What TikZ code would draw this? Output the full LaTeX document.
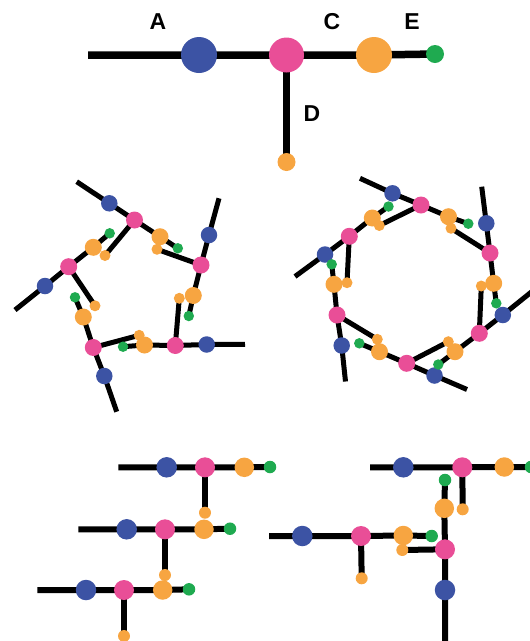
\documentclass[tikz,border=0pt]{standalone}
\usepackage{fontspec}
\setmainfont{Liberation Sans}
\usetikzlibrary{backgrounds}
\definecolor{cblue}{RGB}{60,83,164}
\definecolor{cpink}{RGB}{233,78,151}
\definecolor{corange}{RGB}{247,165,65}
\definecolor{cgreen}{RGB}{31,170,80}
\tikzset{
  cb/.style={circle,inner sep=0pt,minimum size=#1,fill=cblue},
  cp/.style={circle,inner sep=0pt,minimum size=#1,fill=cpink},
  co/.style={circle,inner sep=0pt,minimum size=#1,fill=corange},
  cg/.style={circle,inner sep=0pt,minimum size=#1,fill=cgreen},
  lnT/.style={line width=7.5pt,black},
  lnR/.style={line width=5pt,black},
  lnB/.style={line width=6pt,black},
  lbl/.style={font=\fontsize{23}{23}\selectfont\bfseries,inner sep=0pt}
}
\begin{document}
\begin{tikzpicture}[x=1pt,y=1pt]
\useasboundingbox (0,0) rectangle (530,-641);
\clip (0,0) rectangle (530,-641);
% ---------- top molecule ----------
\coordinate (tL) at (88,-55);
\node[cb=36] (tA) at (199,-55) {};
\node[cp=35] (tB) at (286.5,-55) {};
\node[co=36] (tC) at (374,-55) {};
\node[cg=18] (tE) at (435,-54) {};
\node[co=18] (tD) at (286.5,-162) {};
\node[lbl] (lA) at (158,-22) {A};
\node[lbl] (lC) at (332,-22) {C};
\node[lbl] (lE) at (412,-22) {E};
\node[lbl] (lD) at (312,-114) {D};
% ---------- pentagon ----------
\coordinate (p1x) at (76.7,-181.7);
\coordinate (p2x) at (219,-198.3);
\coordinate (p3x) at (245,-344.3);
\coordinate (p4x) at (116.7,-411.7);
\coordinate (p5x) at (15,-310);
\node[cb=16.5] (p1a) at (109.3,-203.3) {};
\node[cb=16.5] (p2a) at (209,-235) {};
\node[cb=16.5] (p3a) at (206.7,-344.5) {};
\node[cb=16.5] (p4a) at (104.3,-376) {};
\node[cb=16.5] (p5a) at (45,-286) {};
\node[cg=10.5] (p1e) at (177.8,-248.3) {};
\node[cg=10.5] (p2e) at (188.8,-316) {};
\node[cg=10.5] (p3e) at (123,-346.7) {};
\node[cg=10.5] (p4e) at (75,-297.3) {};
\node[cg=10.5] (p5e) at (109.7,-233.3) {};
\node[co=11] (p1d) at (105,-255.5) {};
\node[co=11] (p2d) at (157,-249.3) {};
\node[co=11] (p3d) at (179.3,-298.3) {};
\node[co=11] (p4d) at (139.2,-335.3) {};
\node[co=11] (p5d) at (95,-305.8) {};
\node[co=17] (p1c) at (160,-236.7) {};
\node[co=17] (p2c) at (193.3,-295.5) {};
\node[co=17] (p3c) at (144.5,-345) {};
\node[co=17] (p4c) at (83.3,-317) {};
\node[co=17] (p5c) at (93.3,-247.3) {};
\node[cp=17] (p1) at (134.5,-220) {};
\node[cp=17] (p2) at (201,-265) {};
\node[cp=17] (p3) at (175.3,-345.5) {};
\node[cp=17] (p4) at (93.3,-347.5) {};
\node[cp=17] (p5) at (68.7,-266.7) {};
% ---------- hexagon ----------
\coordinate (h1x) at (360,-178.3);
\coordinate (h2x) at (481.7,-186.7);
\coordinate (h3x) at (545,-281);
\coordinate (h4x) at (467,-389.5);
\coordinate (h5x) at (345.5,-381.5);
\coordinate (h6x) at (295,-276.5);
\node[cb=16.5] (h1a) at (392.5,-193.3) {};
\node[cb=16.5] (h2a) at (486.3,-223.3) {};
\node[cb=16.5] (h3a) at (502.8,-315) {};
\node[cb=16.5] (h4a) at (434.5,-375.5) {};
\node[cb=16.5] (h5a) at (341.7,-345.5) {};
\node[cb=16.5] (h6a) at (325,-254.5) {};
\node[cg=10.5] (h1e) at (468.3,-223.7) {};
\node[cg=10.5] (h2e) at (496.3,-303.3) {};
\node[cg=10.5] (h3e) at (438.3,-364.5) {};
\node[cg=10.5] (h4e) at (359.3,-343.3) {};
\node[cg=10.5] (h5e) at (331.7,-264.3) {};
\node[cg=10.5] (h6e) at (388.5,-206.5) {};
\node[co=11] (h1d) at (379.3,-225.5) {};
\node[co=11] (h2d) at (451,-228.3) {};
\node[co=11] (h3d) at (481.3,-286) {};
\node[co=11] (h4d) at (448.3,-341.7) {};
\node[co=11] (h5d) at (377.3,-339.3) {};
\node[co=11] (h6d) at (347,-282.7) {};
\node[co=17] (h1c) at (448.5,-216.7) {};
\node[co=17] (h2c) at (493.7,-283.3) {};
\node[co=17] (h3c) at (455,-351.7) {};
\node[co=17] (h4c) at (379.5,-351.7) {};
\node[co=17] (h5c) at (334,-284.3) {};
\node[co=17] (h6c) at (372.3,-218) {};
\node[cp=17] (h1) at (421,-205) {};
\node[cp=17] (h2) at (490,-253) {};
\node[cp=17] (h3) at (479.3,-333.3) {};
\node[cp=17] (h4) at (406.7,-363.3) {};
\node[cp=17] (h5) at (337,-315) {};
\node[cp=17] (h6) at (349.3,-236.3) {};
% ---------- bottom left stack ----------
\coordinate (r1x) at (118.3,-467.3);
\coordinate (r2x) at (78.3,-529.3);
\coordinate (r3x) at (37.3,-590);
\node[cb=20.5] (r1a) at (166.7,-467.3) {};
\node[cp=20] (r1b) at (205,-467.3) {};
\node[co=19.5] (r1c) at (244.3,-467.3) {};
\node[cg=12.5] (r1e) at (270,-467) {};
\node[co=12] (r1d) at (205,-512.7) {};
\node[cb=20.5] (r2a) at (126.7,-529.3) {};
\node[cp=20] (r2b) at (165,-529.3) {};
\node[co=19.5] (r2c) at (204,-529.3) {};
\node[cg=12.5] (r2e) at (230,-528.7) {};
\node[co=12] (r2d) at (165,-575) {};
\node[cb=20.5] (r3a) at (86,-590) {};
\node[cp=20] (r3b) at (124,-590) {};
\node[co=19.5] (r3c) at (162.7,-590) {};
\node[cg=12.5] (r3e) at (189,-589.3) {};
\node[co=12] (r3d) at (124,-636) {};
% ---------- bottom right ----------
\coordinate (ax) at (370,-467.3);
\node[cb=20.5] (aa) at (403.3,-467.3) {};
\node[cp=20] (ab) at (462.3,-467.3) {};
\node[co=19.5] (ac) at (504.3,-467) {};
\node[cg=12.5] (ae) at (531,-467) {};
\node[co=12] (ad) at (462.7,-509.3) {};
\coordinate (vx) at (445,-650);
\node[cp=20] (vb) at (445,-549.3) {};
\node[cb=20.5] (va) at (445,-590) {};
\node[co=19.5] (vc) at (444.3,-508.3) {};
\node[cg=12.5] (ve) at (445,-480) {};
\node[co=12] (vd) at (402.3,-550) {};
\coordinate (bx) at (269,-536);
\node[cb=20.5] (ba) at (302.3,-536) {};
\node[cp=20] (bb) at (361,-536) {};
\node[co=19.5] (bc) at (403.3,-535.5) {};
\node[cg=12.5] (be) at (431.7,-536) {};
\node[co=12] (bd) at (361.7,-578.3) {};
% ---------- connectors ----------
\begin{pgfonlayer}{background}
\begin{scope}
\clip (0,0) rectangle (530,-641);
\draw[lnT] (tL) -- (tA.center) -- (tB.center) -- (tC.center) -- (tE.center);
\draw[lnT] (tB.center) -- (tD.center);
\foreach \i in {1,...,5}{
  \draw[lnR] (p\i x) -- (p\i a.center) -- (p\i.center) -- (p\i c.center) -- (p\i e.center);
  \draw[lnR] (p\i.center) -- (p\i d.center);
}
\foreach \i in {1,...,6}{
  \draw[lnR] (h\i x) -- (h\i a.center) -- (h\i.center) -- (h\i c.center) -- (h\i e.center);
  \draw[lnR] (h\i.center) -- (h\i d.center);
}
\foreach \i in {1,2,3}{
  \draw[lnB] (r\i x) -- (r\i a.center) -- (r\i b.center) -- (r\i c.center) -- (r\i e.center);
  \draw[lnB] (r\i b.center) -- (r\i d.center);
}
\draw[lnB] (ax) -- (aa.center) -- (ab.center) -- (ac.center) -- (ae.center);
\draw[lnB] (ab.center) -- (ad.center);
\draw[lnB] (vx) -- (va.center) -- (vb.center) -- (vc.center) -- (ve.center);
\draw[lnB] (vb.center) -- (vd.center);
\draw[lnB] (bx) -- (ba.center) -- (bb.center) -- (bc.center) -- (be.center);
\draw[lnB] (bb.center) -- (bd.center);
\end{scope}
\end{pgfonlayer}
\end{tikzpicture}
\end{document}
